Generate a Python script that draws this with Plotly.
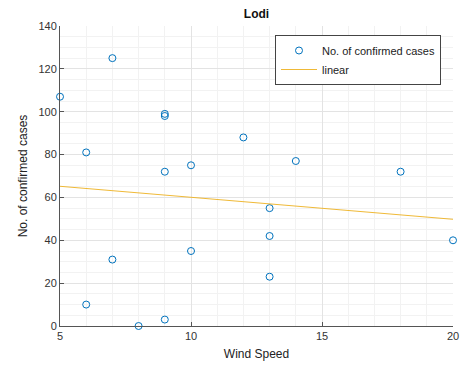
import plotly.graph_objects as go

wind_speed = [5, 6, 7, 9, 9, 9, 10, 12, 14, 18, 13, 13, 13, 20, 6, 7, 8, 9, 10]
confirmed = [107, 81, 125, 99, 98, 72, 75, 88, 77, 72, 55, 42, 23, 40, 10, 31, 0, 3, 35]
fit_x = [5, 20]
fit_y = [65.2, 49.8]

x_ticks = [5, 10, 15, 20]
y_ticks = [0, 20, 40, 60, 80, 100, 120, 140]

font_family = "Liberation Sans, Arial, sans-serif"

fig = go.Figure()
fig.add_trace(go.Scatter(
    x=wind_speed, y=confirmed, mode="markers", name="No. of confirmed cases",
    marker=dict(symbol="circle-open", size=7, color="#0072BD", line=dict(width=1, color="#0072BD")),
    cliponaxis=False,
))
fig.add_trace(go.Scatter(
    x=fit_x, y=fit_y, mode="lines", name="linear",
    line=dict(color="#EDB120", width=0.9),
))

axis_common = dict(
    showgrid=True, gridcolor="#e3e3e3", gridwidth=1,
    showline=True, linecolor="#555555", linewidth=1,
    ticks="inside", ticklen=4, tickcolor="#555555",
    tickfont=dict(size=11, color="#333333", family=font_family),
    zeroline=False, automargin=False,
)

fig.update_xaxes(
    range=[5, 20], tickvals=x_ticks, ticktext=[str(v) for v in x_ticks],
    minor=dict(dtick=1, showgrid=True, gridcolor="#f2f2f2", ticks=""),
    title=dict(text="Wind Speed", font=dict(size=12, color="#222222", family=font_family), standoff=8),
    **axis_common,
)
fig.update_yaxes(
    range=[0, 140], tickvals=y_ticks, ticktext=[str(v) for v in y_ticks],
    minor=dict(dtick=5, showgrid=True, gridcolor="#f2f2f2", ticks=""),
    title=dict(text="No. of confirmed cases", font=dict(size=12, color="#222222", family=font_family), standoff=8),
    **axis_common,
)

fig.update_layout(
    width=462, height=368,
    margin=dict(l=60, r=9, t=26, b=42, autoexpand=False),
    paper_bgcolor="white", plot_bgcolor="white",
    title=dict(text="<b>Lodi</b>", x=(60 + 453) / 2 / 462, xanchor="center", y=1 - 14 / 368, yanchor="middle",
               font=dict(size=12, color="#111111", family=font_family)),
    legend=dict(
        x=(275 - 60) / 393, y=0.97, xanchor="left", yanchor="top",
        bgcolor="white", bordercolor="#444444", borderwidth=1,
        font=dict(size=11, color="#222222", family=font_family),
        itemwidth=36, tracegroupgap=0,
    ),
    font=dict(family=font_family),
)

fig.write_html("out.html")
